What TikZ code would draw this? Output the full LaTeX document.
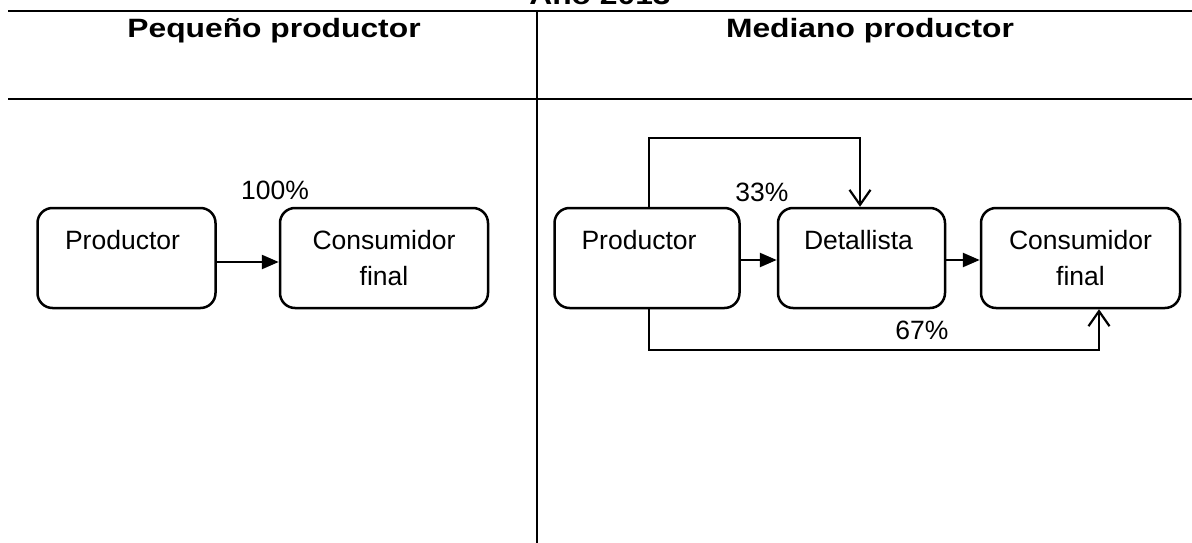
\documentclass[tikz,border=0pt]{standalone}
\usepackage{fontspec}
\setmainfont{Liberation Sans}
\usetikzlibrary{arrows.meta,calc}
\tikzset{
  box/.style={draw, line width=2.5pt, rounded corners=15pt, inner sep=0pt},
  lbl/.style={font=\fontsize{26.5}{36}\selectfont, inner sep=0pt, align=center},
  hdr/.style={font=\fontsize{26.5}{32}\selectfont\bfseries, inner sep=0pt},
  rule/.style={line width=2pt},
  fillarrow/.style={line width=2.5pt, -{Triangle[length=17pt,width=14pt]}},
  openarrow/.style={line width=2.2pt, -{Straight Barb[length=15pt,width=21pt]}},
}
\begin{document}
\begin{tikzpicture}[x=1pt,y=-1pt]
\useasboundingbox (0,0) rectangle (1192,543);
% title and header rules
\node[hdr, anchor=base] (title) at (600,5) {\scalebox{1.2}[1]{Año 2013}};
\coordinate (tl) at (8,11);
\coordinate (tr) at (1192,11);
\coordinate (ml) at (8,99);
\coordinate (mr) at (1192,99);
\coordinate (vt) at (537,11);
\coordinate (vb) at (537,543);
\draw[rule, line width=2.5pt] (tl) -- (tr);
\draw[rule] (ml) -- (mr);
\draw[rule] (vt) -- (vb);
\node[hdr, anchor=base] (h1) at (274,38) {\scalebox{1.2}[1]{Pequeño productor}};
\node[hdr, anchor=base] (h2) at (870,38) {\scalebox{1.2}[1]{Mediano productor}};
% left boxes
\node[box, minimum width=178pt, minimum height=100pt] (lp) at (126.5,258) {};
\node[box, minimum width=208pt, minimum height=100pt] (lc) at (384,258) {};
\node[lbl, anchor=north] (lpt) at ($(lp.north)+(-4,23)$) {Productor};
\node[lbl, anchor=north] (lct) at ($(lc.north)+(0,23)$) {Consumidor\\final};
\draw[fillarrow] (lp.east |- 0,262) -- (lc.west |- 0,262);
\node[lbl] (l100) at (275,190) {100\%};
% right boxes
\node[box, minimum width=185pt, minimum height=100pt] (rp) at (647,258) {};
\node[box, minimum width=167pt, minimum height=100pt] (rd) at (861.5,258) {};
\node[box, minimum width=199pt, minimum height=100pt] (rc) at (1080.5,258) {};
\node[lbl, anchor=north] (rpt) at ($(rp.north)+(-8,23)$) {Productor};
\node[lbl, anchor=north] (rdt) at ($(rd.north)+(-3,23)$) {Detallista};
\node[lbl, anchor=north] (rct) at ($(rc.north)+(0,23)$) {Consumidor\\final};
\draw[fillarrow] (rp.east |- 0,260) -- (rd.west |- 0,260);
\draw[fillarrow] (rd.east |- 0,260) -- (rc.west |- 0,260);
\draw[openarrow] (rp.north -| 649,0) -- (649,138) -- (860,138) -- (rd.north -| 860,0);
\draw[openarrow] (rp.south -| 649,0) -- (649,350) -- (1099,350) -- (rc.south -| 1099,0);
\node[lbl] (r33) at (762,192) {33\%};
\node[lbl] (r67) at (922,330) {67\%};
\end{tikzpicture}
\end{document}
